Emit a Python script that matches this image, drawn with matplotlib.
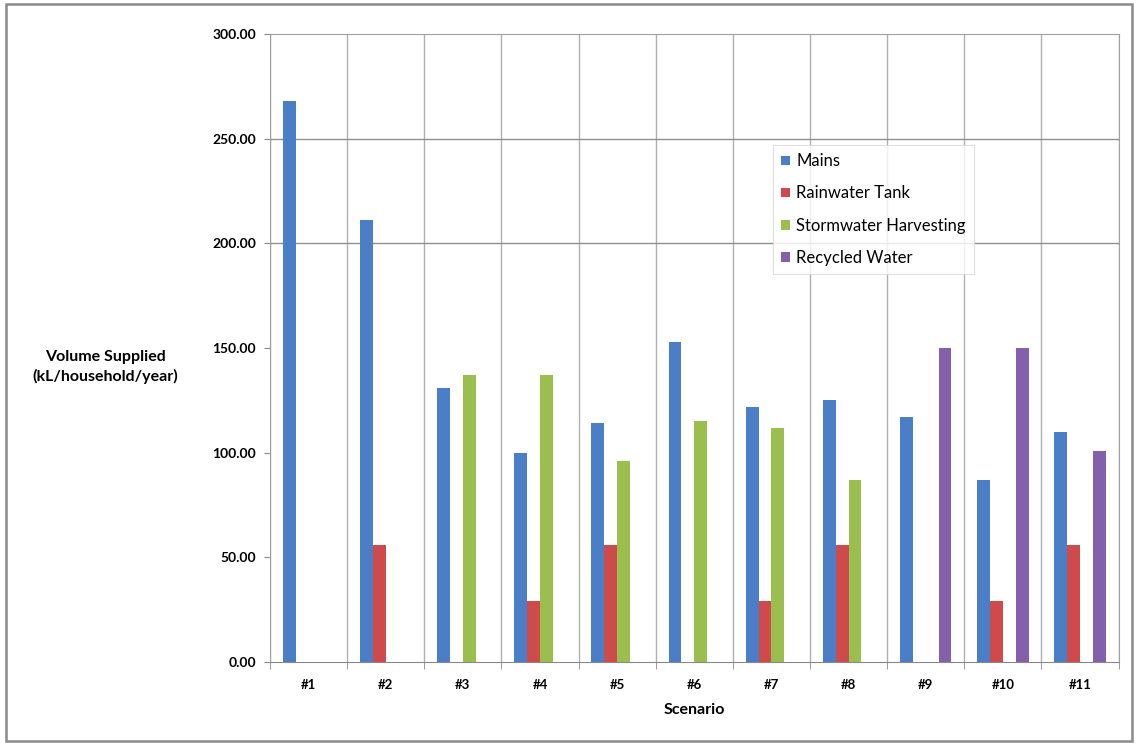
import numpy as np
import matplotlib
matplotlib.use("Agg")
import matplotlib.pyplot as plt
from matplotlib.patches import Rectangle

plt.rcParams['font.family'] = ['Lato', 'DejaVu Sans']

scenarios = ['#1', '#2', '#3', '#4', '#5', '#6', '#7', '#8', '#9', '#10', '#11']
mains = [268, 211, 131, 100, 114, 153, 122, 125, 117, 87, 110]
rainwater = [0, 56, 0, 29, 56, 0, 29, 56, 0, 29, 56]
stormwater = [0, 0, 137, 137, 96, 115, 112, 87, 0, 0, 0]
recycled = [0, 0, 0, 0, 0, 0, 0, 0, 150, 150, 101]

series = [
    ('Mains', mains, '#4a7ec6'),
    ('Rainwater Tank', rainwater, '#cf4a4a'),
    ('Stormwater Harvesting', stormwater, '#9bbf4f'),
    ('Recycled Water', recycled, '#8460ac'),
]
yticks = [0, 50, 100, 150, 200, 250, 300]
grid_y = [200, 250]

fig = plt.figure(figsize=(11.36, 7.43), dpi=100)
ax = fig.add_axes([0.2377, 0.109, 0.747, 0.845])

x = np.arange(len(scenarios))
w = 1 / 6
for k, (name, vals, col) in enumerate(series):
    ax.bar(x + (k - 1.5) * w, vals, width=w, color=col, label=name, zorder=3)

ax.set_xlim(-0.5, len(scenarios) - 0.5)
ax.set_ylim(0, 300)

# category separators and the few horizontal gridlines
for b in np.arange(len(scenarios) + 1) - 0.5:
    ax.axvline(b, color='#b0b0b0', lw=1.0, zorder=1)
for g in grid_y:
    ax.axhline(g, color='#909090', lw=1.0, zorder=1)

for s in ['left', 'right', 'top']:
    ax.spines[s].set_color('#a0a0a0')
ax.spines['bottom'].set_color('#888888')

ax.set_yticks(yticks)
ax.set_yticklabels(['%.2f' % v for v in yticks], fontsize=10, fontweight='bold')
ax.set_xticks(x)
ax.set_xticklabels(scenarios, fontsize=9.5, fontweight='bold')
ax.tick_params(axis='x', length=0, pad=12)
ax.tick_params(axis='y', length=4, color='#888888', pad=6)
ax.set_xticks(np.arange(len(scenarios) + 1) - 0.5, minor=True)
ax.tick_params(axis='x', which='minor', length=5, color='#888888')

ax.set_xlabel('Scenario', fontsize=11.5, fontweight='bold', labelpad=9)
fig.text(0.0925, 0.506, 'Volume Supplied\n(kL/household/year)', ha='center', va='center',
         fontsize=11.5, fontweight='bold', linespacing=1.4)

leg = ax.legend(loc='upper left', bbox_to_anchor=(773 / 1136, 1 - 145 / 743),
                bbox_transform=fig.transFigure, fontsize=12, frameon=True,
                fancybox=False, handlelength=0.5, handleheight=0.5,
                handletextpad=0.4, labelspacing=0.97, borderpad=0.5,
                borderaxespad=0)
leg.get_frame().set_edgecolor('#d8d8d8')
leg.get_frame().set_linewidth(0.8)
leg.set_zorder(5)

# outer chart border
fig.patches.append(Rectangle((6 / 1136, 2 / 743), 1126 / 1136, 737 / 743,
                             transform=fig.transFigure, fill=False,
                             edgecolor='#8a8a8a', lw=1.8))

fig.savefig('out.png', dpi=100)
